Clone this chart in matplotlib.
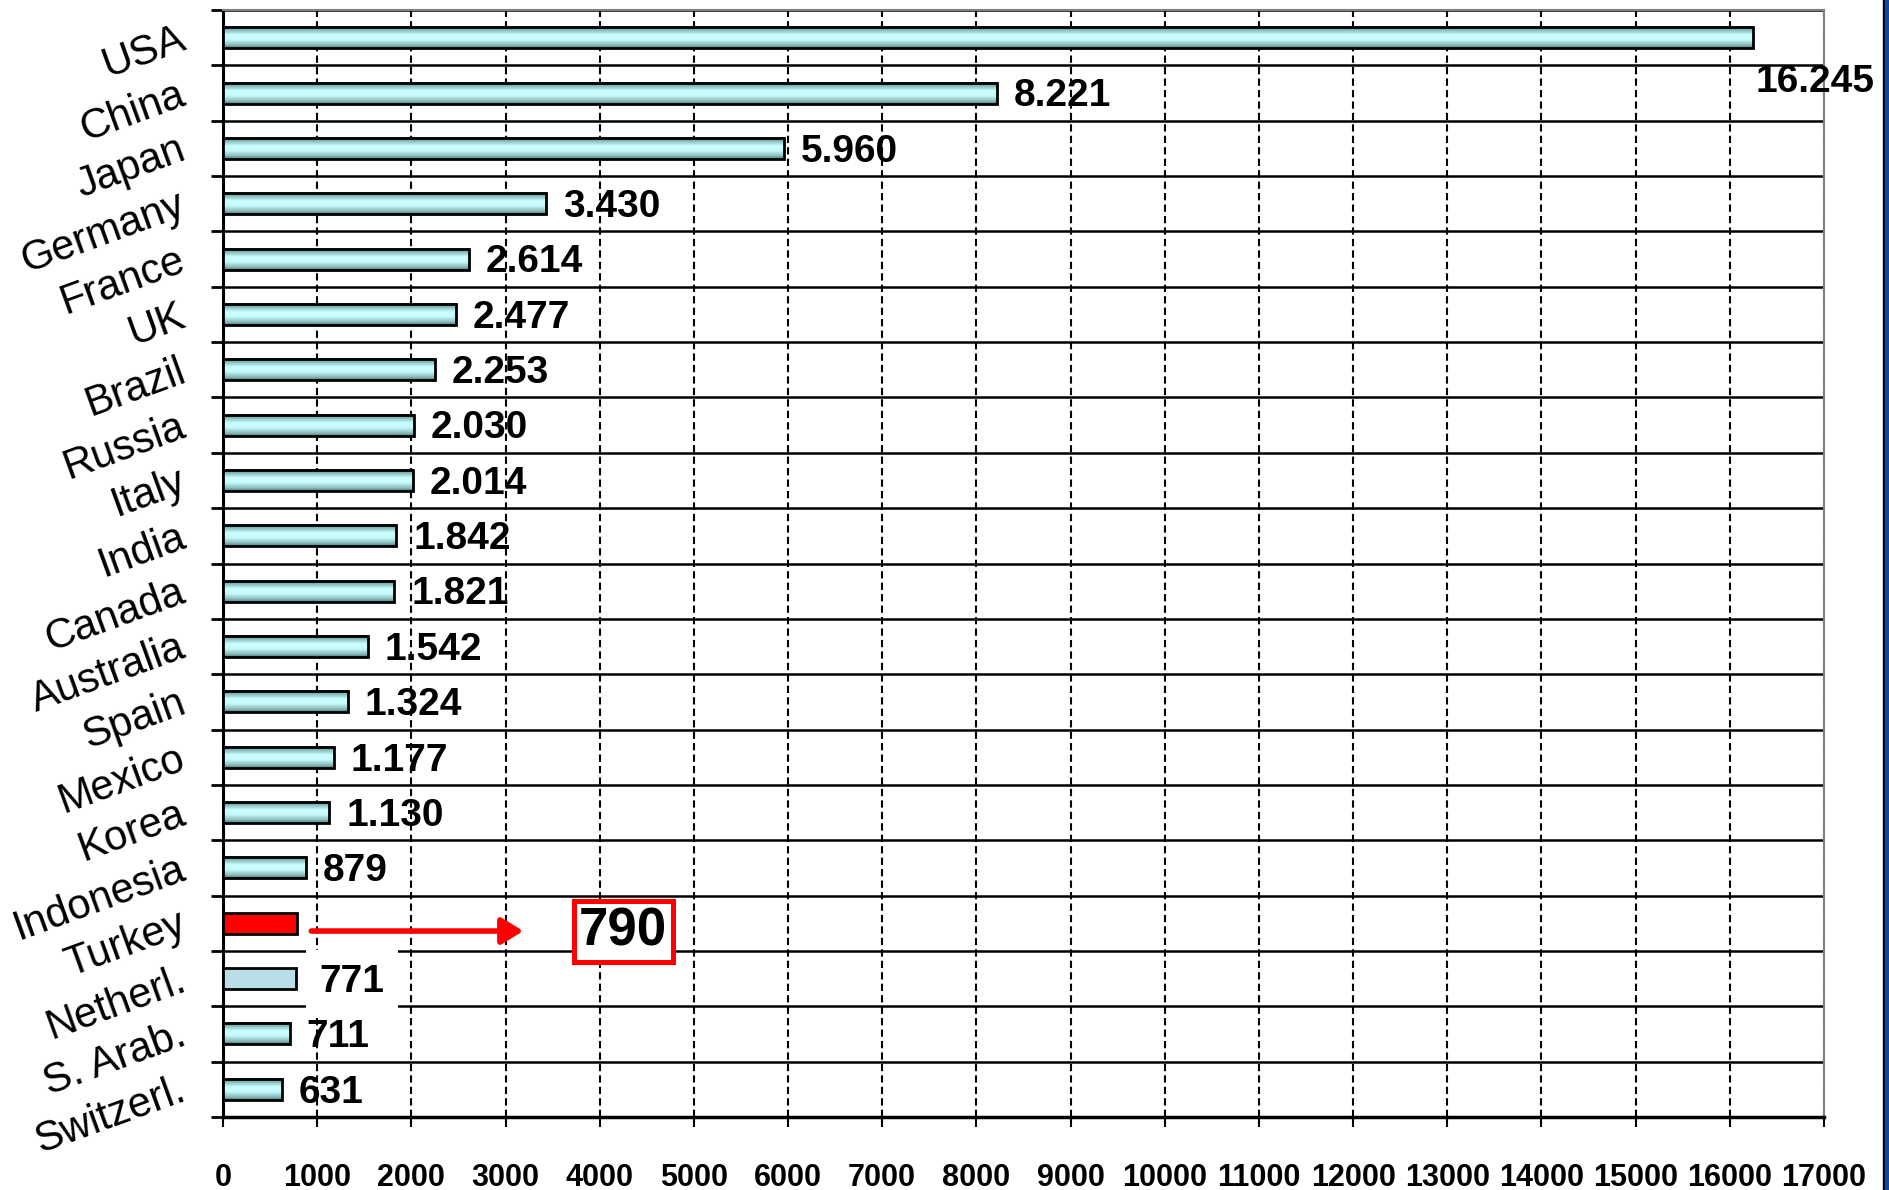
import matplotlib.pyplot as plt
import matplotlib.font_manager as fm
import numpy as np
from matplotlib.colors import LinearSegmentedColormap
from matplotlib.patches import Rectangle

countries = ["USA", "China", "Japan", "Germany", "France", "UK", "Brazil", "Russia",
             "Italy", "India", "Canada", "Australia", "Spain", "Mexico", "Korea",
             "Indonesia", "Turkey", "Netherl.", "S. Arab.", "Switzerl."]
gdp = [16245, 8221, 5960, 3430, 2614, 2477, 2253, 2030, 2014, 1842, 1821, 1542,
       1324, 1177, 1130, 879, 790, 771, 711, 631]
x_ticks = list(range(0, 17001, 1000))

highlight = "Turkey"
plain = "Netherl."

# narrow font for the numbers if there is one
names = {f.name for f in fm.fontManager.ttflist}
if "Liberation Sans Narrow" in names:
    num_font, num_size, big_size = "Liberation Sans Narrow", 31, 44
else:
    num_font, num_size, big_size = "Liberation Sans", 28, 38

def fmt(v):
    return f"{v:,}".replace(",", ".")

grad_cmap = LinearSegmentedColormap.from_list(
    "cyanbar", [(0, "#3f6c6c"), (0.15, "#7fb2b2"), (0.4, "#ccffff"),
                (0.62, "#c6fafa"), (0.85, "#90c0c0"), (1, "#527f7f")])
grad = np.linspace(0, 1, 64).reshape(-1, 1)

fig = plt.figure(figsize=(18.9, 11.9), dpi=100)
ax = fig.add_axes([223 / 1890, 73 / 1190, (1824 - 223) / 1890, (1117 - 10) / 1190])

h = 0.38
y = np.arange(len(countries))
for i, (c, v) in enumerate(zip(countries, gdp)):
    if c == highlight:
        ax.barh(i, v, height=h, color="#ff0000", edgecolor="black", linewidth=2, zorder=3)
    elif c == plain:
        ax.barh(i, v, height=h, color="#b8dde6", edgecolor="black", linewidth=2, zorder=3)
    else:
        ax.imshow(grad, extent=(0, v, i + h / 2, i - h / 2), aspect="auto",
                  cmap=grad_cmap, origin="upper", zorder=3)
        ax.barh(i, v, height=h, fill=False, edgecolor="black", linewidth=2, zorder=4)

# value labels
for i, (c, v) in enumerate(zip(countries, gdp)):
    if c == highlight:
        ax.annotate("", xy=(4250, i + 0.14), xytext=(v, i + 0.14),
                    arrowprops=dict(arrowstyle="-|>,head_length=1.3,head_width=0.8",
                                    color="#ff0000", lw=4, shrinkA=10, shrinkB=72),
                    zorder=5)
        ax.text(4250, i + 0.15, fmt(v), fontsize=big_size, fontweight="bold",
                family=num_font, ha="center", va="center", zorder=6,
                bbox=dict(boxstyle="square,pad=0.1", fc="white", ec="#ff0000", lw=3.6))
    elif i == 0:
        ax.annotate(fmt(v), xy=(v, i + 0.8), xytext=(2, 0), textcoords="offset points",
                    fontsize=num_size, fontweight="bold", family=num_font,
                    ha="left", va="center", zorder=6, annotation_clip=False)
    elif c == plain:
        ax.annotate(fmt(v), xy=(v, i + 0.06), xytext=(17, 0), textcoords="offset points",
                    fontsize=num_size, fontweight="bold", family=num_font,
                    ha="left", va="center", zorder=6,
                    bbox=dict(boxstyle="square,pad=0.35", fc="white", ec="none"))
    else:
        ax.annotate(fmt(v), xy=(v, i + 0.06), xytext=(12, 0), textcoords="offset points",
                    fontsize=num_size, fontweight="bold", family=num_font,
                    ha="left", va="center", zorder=6)

ax.set_xlim(0, 17000)
ax.set_ylim(len(countries) - 0.5, -0.5)

ax.set_xticks(x_ticks)
ax.set_xticklabels([str(t) for t in x_ticks], fontsize=22, fontweight="bold",
                   family="Liberation Sans")
ax.set_yticks(y)
ax.set_yticklabels(countries, fontsize=30, family="Liberation Sans",
                   rotation=20, rotation_mode="anchor", ha="right", va="center")
ax.set_yticks(np.arange(-0.5, len(countries), 1), minor=True)

ax.tick_params(axis="x", length=7, width=1.5, pad=26, direction="out")
ax.tick_params(axis="y", which="major", length=0, pad=28)
ax.tick_params(axis="y", which="minor", length=9, width=2, direction="out")

ax.set_axisbelow(True)
ax.grid(axis="x", which="major", color="black", linestyle=(0, (3.5, 2)), linewidth=1.5)
ax.grid(axis="y", which="minor", color="black", linestyle="-", linewidth=1.8)
ax.grid(axis="y", which="major", visible=False)

ax.spines["left"].set_linewidth(2.2)
ax.spines["bottom"].set_linewidth(2.5)
for s in ("top", "right"):
    ax.spines[s].set_color("#808080")
    ax.spines[s].set_linewidth(1.5)

# frame strip at the right edge of the picture
fig.patches.append(Rectangle((1883 / 1890, 0), 2 / 1890, 1, transform=fig.transFigure,
                             color="black", zorder=10))
fig.patches.append(Rectangle((1885 / 1890, 0), 5 / 1890, 1, transform=fig.transFigure,
                             color="#0d47a1", zorder=10))

fig.savefig("out.png", dpi=100)
